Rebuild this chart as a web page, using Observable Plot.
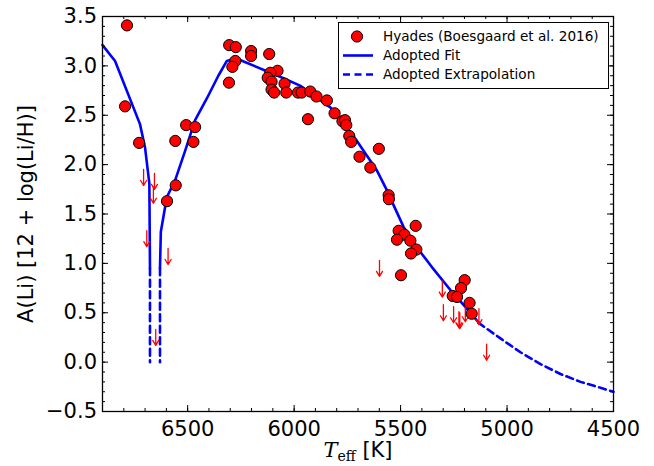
<!DOCTYPE html>
<html><head><meta charset="utf-8">
<script src="https://cdn.jsdelivr.net/npm/d3@7"></script>
<script src="https://cdn.jsdelivr.net/npm/@observablehq/plot@0.6"></script>
<style>
body{margin:0;background:#fff;}
#wrap{position:relative;width:654px;height:466px;font-family:"DejaVu Sans",sans-serif;}
#legend{position:absolute;left:338px;top:22px;width:271px;height:67px;border:1.3px solid #000;background:#fff;box-sizing:border-box;font-size:13.6px;color:#000;}
.row{position:absolute;left:0;height:19px;display:flex;align-items:center;white-space:nowrap;}
.row svg{margin-left:4px;margin-right:10px;}
</style></head><body><div id="wrap"></div>
<script>
// Hyades detections
const hyadesTeff = [6785,6794,6728,6507,6465,6558,6473,6556,6597,6305,6274,6202,6202,6117,6276,6290,6306,6078,6112,6124,6106,6106,6094,6045,6037,5982,5965,5924,5895,5846,5935,5810,5773,5761,5755,5741,5732,5602,5693,5642,5556,5555,5509,5482,5517,5454,5429,5426,5451,5498,5199,5216,5255,5235,5176,5166];
const hyadesALi = [3.41,2.59,2.22,2.40,2.38,2.24,2.23,1.79,1.63,3.21,3.19,3.15,3.10,3.12,3.05,2.99,2.83,2.95,2.93,2.88,2.84,2.76,2.73,2.82,2.73,2.73,2.73,2.74,2.69,2.65,2.46,2.52,2.44,2.45,2.40,2.29,2.23,2.16,2.08,1.97,1.69,1.65,1.33,1.29,1.24,1.23,1.38,1.14,1.10,0.88,0.83,0.75,0.67,0.66,0.60,0.49];
// Hyades upper limits
const limitTeff = [6707,6656,6661,6692,6592,6650,5599,5304,5299,5251,5226,5222,5196,5132,5096];
const limitALi = [1.87,1.83,1.69,1.25,1.07,0.25,0.95,0.74,0.50,0.48,0.43,0.42,0.49,0.46,0.10];
// Adopted fit (solid)
const fitLeftTeff = [6900,6841,6724,6700,6680,6677];
const fitLeftALi = [3.21,3.05,2.41,2.17,1.81,0.95];
const fitRightTeff = [6630,6626,6598,6559,6512,6465,6410,6356,6316,6285,6254,6066,5972,5830,5705,5642,5611,5564,5533,5486,5423,5352,5266,5196,5133];
const fitRightALi = [0.95,1.32,1.67,1.84,2.14,2.45,2.67,2.90,3.05,3.07,3.06,2.89,2.80,2.58,2.24,2.04,1.94,1.74,1.59,1.37,1.16,0.96,0.73,0.56,0.40];
// Adopted extrapolation (dashed)
const extrapDip1Teff = [6677,6677];
const extrapDip1ALi = [0.95,0.0];
const extrapDip2Teff = [6630,6630];
const extrapDip2ALi = [0.95,0.0];
const extrapTailTeff = [5135,5031,4937,4843,4749,4655,4561,4500];
const extrapTailALi = [0.40,0.24,0.10,-0.02,-0.12,-0.20,-0.26,-0.30];
// ticks
const xMajor = [6500,6000,5500,5000,4500];
const yMajor = [-0.5,0.0,0.5,1.0,1.5,2.0,2.5,3.0,3.5];
const xMinor = d3.range(6900,4499,-100);
const yMinor = d3.range(-5,36).map(d => d/10);
const legendLabels = ["Hyades (Boesgaard et al. 2016)","Adopted Fit","Adopted Extrapolation"];

const zip = (a,b,extra={}) => a.map((v,i)=>({T:v, A:b[i], ...extra}));
const hyades = zip(hyadesTeff, hyadesALi);
const limits = zip(limitTeff, limitALi);
const fit = [...zip(fitLeftTeff, fitLeftALi, {s:"a"}), ...zip(fitRightTeff, fitRightALi, {s:"b"})];
const extrap = [...zip(extrapDip1Teff, extrapDip1ALi, {s:"a"}), ...zip(extrapDip2Teff, extrapDip2ALi, {s:"b"}), ...zip(extrapTailTeff, extrapTailALi, {s:"c"})];

const W = 654, H = 466, mL = 102, mR = 41, mT = 16, mB = 55;
const fw = W - mL - mR, fh = H - mT - mB;
const arrowShape = {draw(ctx, l){ ctx.moveTo(0,0); ctx.lineTo(0,-l); ctx.moveTo(-3,-l+5); ctx.lineTo(0,-l); ctx.lineTo(3,-l+5); }};
function tickMarks(vals, dim, len){
  const o = {stroke: "black", strokeWidth: 1};
  if (dim === "x") return [
    Plot.tickX(vals, {...o, x: d=>d, insetTop: fh - len}),
    Plot.tickX(vals, {...o, x: d=>d, insetBottom: fh - len})
  ];
  return [
    Plot.tickY(vals, {...o, y: d=>d, insetRight: fw - len}),
    Plot.tickY(vals, {...o, y: d=>d, insetLeft: fw - len})
  ];
}
const fmt = d => d.toFixed(1).replace("-", "\u2212");

const chart = Plot.plot({
  width: W, height: H,
  marginLeft: mL, marginRight: mR, marginTop: mT, marginBottom: mB,
  style: {fontFamily: "DejaVu Sans", fontSize: "21px", color: "black", background: "white"},
  x: {domain: [6900, 4500]},
  y: {domain: [-0.5, 3.5]},
  marks: [
    Plot.line(fit, {x: "T", y: "A", z: "s", stroke: "#0000ff", strokeWidth: 2.6}),
    Plot.line(extrap, {x: "T", y: "A", z: "s", stroke: "#0000ff", strokeWidth: 2.6, strokeDasharray: "7,4.5"}),
    Plot.vector(limits, {x: "T", y: "A", length: 16, rotate: 180, anchor: "middle", shape: arrowShape, stroke: "#ff0000", strokeWidth: 1.3}),
    Plot.dot(hyades, {x: "T", y: "A", r: 5.6, fill: "#ff0000", stroke: "black", strokeWidth: 1}),
    ...tickMarks(xMinor, "x", 3),
    ...tickMarks(xMajor, "x", 6),
    ...tickMarks(yMinor, "y", 3),
    ...tickMarks(yMajor, "y", 6),
    Plot.frame({stroke: "black", strokeWidth: 1.3}),
    Plot.axisX({ticks: xMajor, tickSize: 0, tickPadding: 10, tickFormat: d => String(d), label: null}),
    Plot.axisY({ticks: yMajor, tickSize: 0, tickPadding: 5.5, tickFormat: fmt, label: null})
  ]
});

const svg = d3.select(chart);
// y label
svg.append("text")
  .attr("transform", "translate(33,214) rotate(-90)")
  .attr("text-anchor", "middle")
  .attr("font-family", "DejaVu Sans").attr("font-size", 21).attr("fill", "black")
  .text("A(Li) [12 + log(Li/H)]");
// x label
const xl = svg.append("text").attr("x", 358).attr("y", 457).attr("text-anchor", "middle").attr("fill", "black");
xl.append("tspan").attr("font-family", "DejaVu Serif").attr("font-style", "italic").attr("font-size", 21).text("T");
xl.append("tspan").attr("font-family", "DejaVu Serif").attr("font-size", 14).attr("dy", 4).text("eff");
xl.append("tspan").attr("font-family", "DejaVu Sans").attr("font-size", 21).attr("dy", -4).text("\u00a0[K]");

const wrap = document.getElementById("wrap");
wrap.appendChild(chart);

// legend
const leg = document.createElement("div");
leg.id = "legend";
const rowsY = [3.5, 22.5, 41.5];
legendLabels.forEach((lab, i) => {
  const row = document.createElement("div");
  row.className = "row";
  row.style.top = rowsY[i] + "px";
  let sw;
  if (i === 0) sw = '<svg width="30" height="19"><circle cx="14" cy="9.5" r="5.6" fill="#ff0000" stroke="black" stroke-width="1"/></svg>';
  else if (i === 1) sw = '<svg width="30" height="19"><line x1="0" y1="9.5" x2="30" y2="9.5" stroke="#0000ff" stroke-width="2.6"/></svg>';
  else sw = '<svg width="30" height="19"><line x1="0" y1="9.5" x2="30" y2="9.5" stroke="#0000ff" stroke-width="2.6" stroke-dasharray="7,4.5"/></svg>';
  row.innerHTML = sw + '<span>' + lab + '</span>';
  leg.appendChild(row);
});
wrap.appendChild(leg);
</script>
</body></html>
